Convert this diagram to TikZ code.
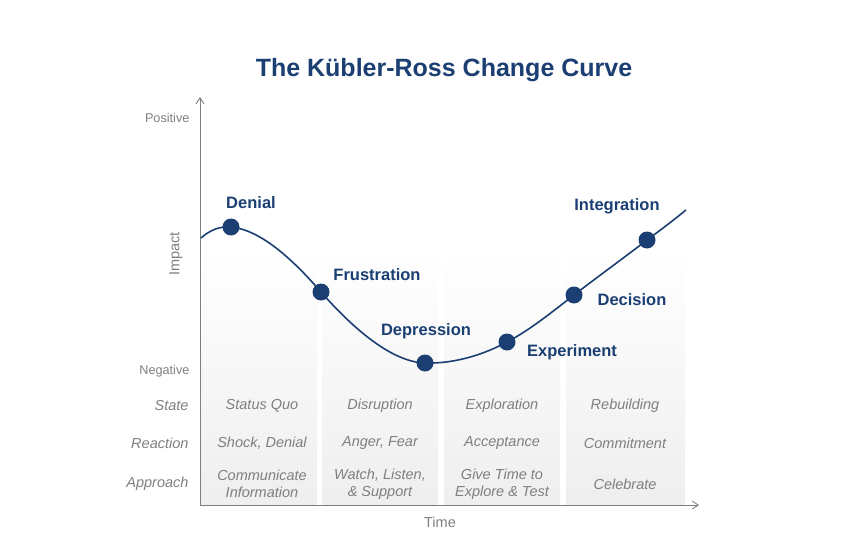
\documentclass[tikz,border=0pt]{standalone}
\usepackage{fontspec}
\setmainfont{Liberation Sans}
\usetikzlibrary{arrows.meta}
\definecolor{kblue}{HTML}{1B3F73}
\definecolor{kgray}{HTML}{7F7F7F}
\tikzset{
  axis/.style={draw=kgray, line width=0.9pt, -{Straight Barb[length=6pt,width=8pt]}},
  panel/.style={draw=none, top color=white, bottom color=gray!13},
  stage/.style={font=\fontsize{16.5}{18}\selectfont\bfseries, text=kblue},
  dot/.style={circle, fill=kblue, minimum size=17pt, inner sep=0pt},
  rowlab/.style={font=\fontsize{14.5}{16}\selectfont\itshape, text=kgray, anchor=east},
  celltxt/.style={font=\fontsize{14.5}{17.5}\selectfont\itshape, text=kgray, align=center},
  axlab/.style={font=\fontsize{12.7}{14}\selectfont, text=kgray},
  axlabb/.style={font=\fontsize{14.5}{16}\selectfont, text=kgray}
}
\begin{document}
\begin{tikzpicture}[x=1pt, y=-1pt]
\useasboundingbox (0,0) rectangle (841,546);
% panels
\path[panel] (201,250) rectangle (317,505);
\path[panel] (322,250) rectangle (438,505);
\path[panel] (444,250) rectangle (560,505);
\path[panel] (566,250) rectangle (685,505);
% title
\node[font=\fontsize{25}{28}\selectfont\bfseries, text=kblue] (title) at (444,70) {The Kübler-Ross Change Curve};
% axes
\coordinate (o) at (200,505);
\coordinate (ytop) at (200,97);
\coordinate (xend) at (699,505);
\draw[axis] (o) -- (ytop);
\draw[axis] (o) -- (xend);
% axis labels
\node[axlab, anchor=east] (pos) at (193,118) {Positive};
\node[axlab, anchor=east] (neg) at (193,371) {Negative};
\node[axlabb, rotate=90] (impact) at (176,254) {Impact};
\node[axlabb] (time) at (440,522) {Time};
% row labels
\node[rowlab] (rstate) at (192,406) {State};
\node[rowlab] (rreact) at (192,443) {Reaction};
\node[rowlab] (rappr) at (192,484) {Approach};
% cells
\node[celltxt] (c11) at (262,406) {Status Quo};
\node[celltxt] (c12) at (262,443) {Shock, Denial};
\node[celltxt] (c13) at (262,484) {Communicate\\Information};
\node[celltxt] (c21) at (380,406) {Disruption};
\node[celltxt] (c22) at (380,443) {Anger, Fear};
\node[celltxt] (c23) at (380,484) {Watch, Listen,\\\& Support};
\node[celltxt] (c31) at (502,406) {Exploration};
\node[celltxt] (c32) at (502,443) {Acceptance};
\node[celltxt] (c33) at (502,484) {Give Time to\\Explore \& Test};
\node[celltxt] (c41) at (625,406) {Rebuilding};
\node[celltxt] (c42) at (625,443) {Commitment};
\node[celltxt] (c43) at (625,484) {Celebrate};
% curve
\coordinate (cs) at (201,238);
\coordinate (p1) at (231,227);
\coordinate (p2) at (321,292);
\coordinate (p3) at (425,363);
\coordinate (p4) at (507,342);
\coordinate (p5) at (574,295);
\coordinate (p6) at (647,240);
\coordinate (ce) at (686,210);
\draw[kblue, line width=1.6pt] (cs) .. controls (210,230) and (220,226) .. (p1)
  .. controls (262,230) and (295,262) .. (p2)
  .. controls (350,325) and (390,362) .. (p3)
  .. controls (455,364) and (485,354) .. (p4)
  .. controls (530,330) and (552,312) .. (p5)
  .. controls (600,275) and (625,257) .. (p6)
  .. controls (662,229) and (675,219) .. (ce);
\node[dot] (d1) at (p1) {};
\node[dot] (d2) at (p2) {};
\node[dot] (d3) at (p3) {};
\node[dot] (d4) at (p4) {};
\node[dot] (d5) at (p5) {};
\node[dot] (d6) at (p6) {};
% stage labels
\node[stage] (l1) at (251,203) {Denial};
\node[stage] (l2) at (377,275) {Frustration};
\node[stage] (l3) at (426,331) {Depression};
\node[stage] (l4) at (572,352) {Experiment};
\node[stage] (l5) at (632,300) {Decision};
\node[stage] (l6) at (617,206) {Integration};
\end{tikzpicture}
\end{document}
